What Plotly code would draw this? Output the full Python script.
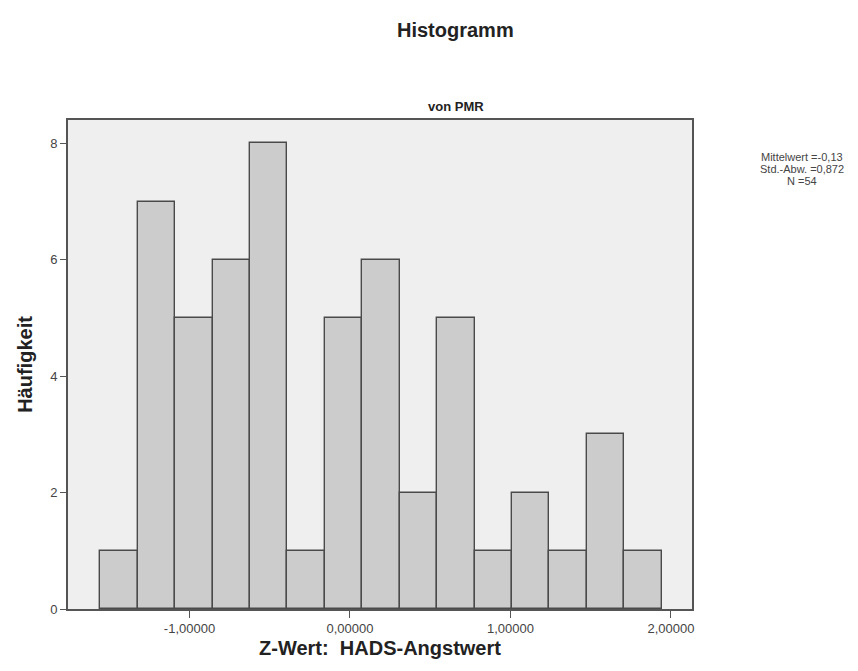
import plotly.graph_objects as go

# Data
counts = [1, 7, 5, 6, 8, 1, 5, 6, 2, 5, 1, 2, 1, 3, 1]
bin_start = -1.555
bin_width = 0.2331
x_tick_vals = [-1, 0, 1, 2]
x_tick_text = ["-1,00000", "0,00000", "1,00000", "2,00000"]
y_tick_vals = [0, 2, 4, 6, 8]
stats_lines = ["Mittelwert =-0,13", "Std.-Abw. =0,872", "N =54"]

centers = [bin_start + bin_width * (i + 0.5) for i in range(len(counts))]

fig = go.Figure()
fig.add_trace(go.Bar(
    x=centers, y=counts, width=[bin_width] * len(counts),
    marker=dict(color="#cccccc", line=dict(color="#4a4a4a", width=1.4)),
    showlegend=False, hoverinfo="x+y",
))

font_fam = "Liberation Sans, Arial, sans-serif"

fig.update_layout(
    width=858, height=671,
    margin=dict(l=60, r=174, t=112, b=70),
    paper_bgcolor="white", plot_bgcolor="#efefef",
    font=dict(family=font_fam, color="#333333", size=13),
    bargap=0,
    xaxis=dict(
        range=[-1.757, 2.131], tickvals=x_tick_vals, ticktext=x_tick_text,
        showgrid=False, zeroline=False, showline=True, mirror=True,
        linecolor="#555555", linewidth=1.6, ticks="outside", ticklen=7,
        tickcolor="#555555", tickfont=dict(size=13, color="#444444"),
        title=dict(text="<b>Z-Wert:  HADS-Angstwert</b>", font=dict(size=20, color="#222222"), standoff=6),
    ),
    yaxis=dict(
        range=[0, 8.4], tickvals=y_tick_vals,
        showgrid=False, zeroline=False, showline=True, mirror=True,
        linecolor="#555555", linewidth=1.6, ticks="outside", ticklen=6,
        tickcolor="#555555", tickfont=dict(size=13, color="#444444"),
        title=dict(text="<b>Häufigkeit</b>", font=dict(size=20, color="#222222"), standoff=12),
    ),
)

fig.add_annotation(text="<b>Histogramm</b>", xref="paper", yref="paper",
                   x=(447 - 60) / 624, y=1.0, yshift=112 - 22,
                   xanchor="center", yanchor="middle", showarrow=False,
                   font=dict(size=20, color="#222222"))

fig.add_annotation(text="<b>von PMR</b>", xref="paper", yref="paper",
                   x=(448 - 60) / 624, y=1.0, yshift=112 - 98,
                   xanchor="center", yanchor="middle", showarrow=False,
                   font=dict(size=13, color="#222222"))

for i, line in enumerate(stats_lines):
    fig.add_annotation(text=line, xref="paper", yref="paper",
                       x=1.0, xshift=110, y=1.0, yshift=112 - (149 + 12 * i),
                       xanchor="center", yanchor="middle",
                       showarrow=False, align="center",
                       font=dict(size=11, color="#444444"))

fig.write_html("out.html")
